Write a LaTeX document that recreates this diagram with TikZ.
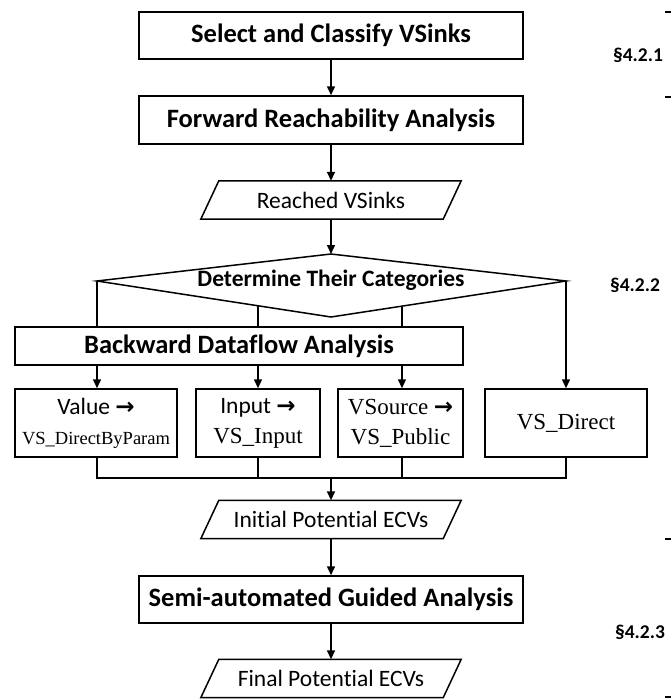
\documentclass[tikz,border=0pt]{standalone}
\usepackage{fontspec}
\setmainfont{Carlito}[Ligatures=NoCommon]
\newfontfamily\serifx{Liberation Serif}
\newfontfamily\symx{DejaVu Sans}

\usetikzlibrary{arrows.meta,calc}

\newcommand\nextarrow{{\symx\bfseries\fontsize{23}{30}\selectfont →}}

\tikzset{
  link/.style={line width=1.5pt},
  flow/.style={link,-{Triangle[length=9pt,width=8pt]}},
  proc/.style={draw,line width=1.5pt,inner sep=0pt,minimum height=47pt,
    font=\bfseries\fontsize{26.5}{30}\selectfont},
  io/.style={inner sep=0pt,minimum width=260pt,minimum height=38pt,
    font=\fontsize{23.5}{28}\selectfont},
  cat/.style={draw,line width=1.5pt,inner sep=0pt,minimum height=68pt,
    align=center,font=\fontsize{23.5}{30}\selectfont},
  sec/.style={font=\bfseries\fontsize{19.5}{22}\selectfont},
  tick/.style={line width=2.5pt},
}

\begin{document}
\begin{tikzpicture}[x=1pt,y=-1pt]
\useasboundingbox (0,0) rectangle (670,699);

% main column
\node[proc,minimum width=384pt] (sel) at (331,35.5) {Select and Classify VSinks};
\node[proc,minimum width=384pt,minimum height=48pt] (fwd) at (331,120) {Forward Reachability Analysis};
\node[io] (reach) at (331,200) {Reached VSinks};

% decision
\coordinate (dt) at (331,254);
\coordinate (dl) at (97,281);
\coordinate (dr) at (566,281);
\coordinate (db) at (331,317);
\node[font=\bfseries\fontsize{23.5}{28}\selectfont] (det) at (331,280) {Determine Their Categories};
\draw[link] (dt) -- (dr) -- (db) -- (dl) -- cycle;
\coordinate (dbl) at ($(dl)!0.688!(db)$);
\coordinate (dbr) at ($(db)!0.302!(dr)$);

\node[proc,minimum width=448pt,minimum height=38pt] (bwd) at (239,346) {Backward Dataflow Analysis};

% categories
\node[cat,minimum width=162pt] (ca) at (96,423)
  {Value \nextarrow\\{\serifx\fontsize{18.5}{30}\selectfont VS\_DirectByParam}};
\node[cat,minimum width=124pt] (cb) at (258,423)
  {Input \nextarrow\\{\serifx\fontsize{23}{30}\selectfont VS\_Input}};
\node[cat,minimum width=125pt] (cc) at (400.5,423)
  {{\serifx\fontsize{23}{30}\selectfont VSource} \nextarrow\\{\serifx\fontsize{23}{30}\selectfont VS\_Public}};
\node[cat,minimum width=162pt,font=\serifx\fontsize{23}{30}\selectfont] (cd) at (566,423) {VS\_Direct};

\coordinate (j) at (331,478);
\node[io] (init) at (331,519.5) {Initial Potential ECVs};
\node[proc,minimum width=384pt] (semi) at (331,599.5) {Semi-automated Guided Analysis};
\node[io] (fin) at (331,678.5) {Final Potential ECVs};

% parallelogram outlines
\foreach \p in {reach,init,fin}
  \draw[link] ([xshift=18pt]\p.north west) -- (\p.north east)
    -- ([xshift=-18pt]\p.south east) -- (\p.south west) -- cycle;

% connectors
\draw[flow] (sel) -- (fwd);
\draw[flow] (fwd) -- (reach);
\draw[flow] (reach) -- (dt);
\draw[link] (dl) -- (dl |- bwd.north);
\draw[link] (dbl) -- (dbl |- bwd.north);
\draw[link] (dbr) -- (dbr |- bwd.north);
\draw[flow] (dl |- bwd.south) -- (dl |- ca.north);
\draw[flow] (dbl |- bwd.south) -- (dbl |- cb.north);
\draw[flow] (dbr |- bwd.south) -- (dbr |- cc.north);
\draw[flow] (dr) -- (cd.north);
\draw[link] (dl |- ca.south) -- (dl |- j) -- (dr |- j) -- (cd.south);
\draw[link] (dbl |- cb.south) -- (dbl |- j);
\draw[link] (dbr |- cc.south) -- (dbr |- j);
\draw[flow] (j) -- (init);
\draw[flow] (init) -- (semi);
\draw[flow] (semi) -- (fin);

% section labels and bracket ends
\node[sec] (s1) at (638,55) {§4.2.1};
\node[sec] (s2) at (635,285) {§4.2.2};
\node[sec] (s3) at (640,632) {§4.2.3};
\foreach \y in {12,97,539,697}
  \draw[tick] (665,\y) -- (672,\y);
\end{tikzpicture}
\end{document}
